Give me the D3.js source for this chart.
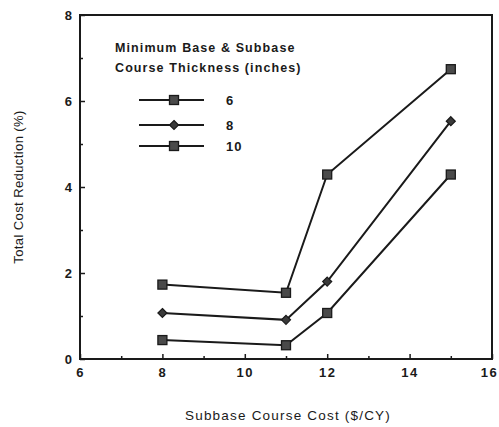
<!DOCTYPE html>
<html><head><meta charset="utf-8">
<script src="https://cdn.jsdelivr.net/npm/d3@7"></script>
<style>
html,body{margin:0;padding:0;background:#fff;}
svg{display:block;}
text{font-family:"Liberation Sans",Arial,Helvetica,sans-serif;fill:#1a1a1a;}
</style></head>
<body>
<svg id="c" width="499" height="427"></svg>
<script>
const costs = [8, 11, 12, 15];
const series6 = [1.73, 1.54, 4.29, 6.74];
const series8 = [1.07, 0.91, 1.8, 5.53];
const series10 = [0.44, 0.32, 1.07, 4.29];
const seriesNames = ["6", "8", "10"];
const seriesMarkers = ["square", "diamond", "square"];
const xTicks = [6, 8, 10, 12, 14, 16];
const yTicks = [0, 2, 4, 6, 8];
const xMinor = [7, 9, 11, 13, 15];
const yMinor = [1, 3, 5, 7];
const xTitle = "Subbase Course Cost ($/CY)";
const yTitle = "Total Cost Reduction (%)";
const legendTitle = ["Minimum Base & Subbase", "Course Thickness (inches)"];

const svg = d3.select("#c");
const L = 80, R = 492, T = 15, B = 359;
const x = d3.scaleLinear().domain([6, 16]).range([L, R]);
const y = d3.scaleLinear().domain([0, 8]).range([B, T]);
const ink = "#1a1a1a";

// frame
svg.append("rect").attr("x", L).attr("y", T).attr("width", R - L).attr("height", B - T)
  .attr("fill", "none").attr("stroke", ink).attr("stroke-width", 2);

// x axis ticks (inward)
const xa = svg.append("g").attr("transform", `translate(0,${B})`)
  .call(d3.axisBottom(x).tickValues(xTicks).tickSize(-5).tickPadding(9).tickFormat(d3.format("d")));
xa.select(".domain").remove();
xa.selectAll(".tick line").attr("stroke", ink).attr("stroke-width", 1.5);
xa.selectAll(".tick text").attr("font-size", 13).attr("font-weight", "bold").attr("letter-spacing", "1.5px")
  .attr("fill", ink).attr("font-family", "Liberation Sans, Arial, sans-serif")
  .attr("dx", d => d === 16 ? -3 : 0);
svg.append("g").attr("transform", `translate(0,${B})`)
  .call(d3.axisBottom(x).tickValues(xMinor).tickSize(-3).tickFormat(""))
  .call(g => g.select(".domain").remove())
  .selectAll(".tick line").attr("stroke", ink).attr("stroke-width", 1.5);

// y axis ticks (inward)
const ya = svg.append("g").attr("transform", `translate(${L},0)`)
  .call(d3.axisLeft(y).tickValues(yTicks).tickSize(-5).tickPadding(8).tickFormat(d3.format("d")));
ya.select(".domain").remove();
ya.selectAll(".tick line").attr("stroke", ink).attr("stroke-width", 1.5);
ya.selectAll(".tick text").attr("font-size", 13).attr("font-weight", "bold").attr("fill", ink).attr("font-family", "Liberation Sans, Arial, sans-serif");
svg.append("g").attr("transform", `translate(${L},0)`)
  .call(d3.axisLeft(y).tickValues(yMinor).tickSize(-3).tickFormat(""))
  .call(g => g.select(".domain").remove())
  .selectAll(".tick line").attr("stroke", ink).attr("stroke-width", 1.5);

// titles
svg.append("text").attr("x", 288).attr("y", 420).attr("text-anchor", "middle")
  .attr("font-size", 13.5).attr("letter-spacing", "1.2px").text(xTitle);
svg.append("text").attr("transform", "translate(23,187) rotate(-90)").attr("text-anchor", "middle")
  .attr("font-size", 13).attr("letter-spacing", "0.4px").text(yTitle);

// lines
const allSeries = [series6, series8, series10];
const line = d3.line().x((d, i) => x(costs[i])).y(d => y(d));
function marker(g, type, cx, cy) {
  if (type === "square") {
    g.append("rect").attr("x", cx - 4.5).attr("y", cy - 4.5).attr("width", 9).attr("height", 9)
      .attr("fill", "#4a4a4a").attr("stroke", ink).attr("stroke-width", 1.3);
  } else {
    const s = 4.5;
    g.append("path").attr("d", `M${cx},${cy - s}L${cx + s},${cy}L${cx},${cy + s}L${cx - s},${cy}Z`)
      .attr("fill", "#3a3a3a").attr("stroke", ink).attr("stroke-width", 1.2);
  }
}
allSeries.forEach((vals, si) => {
  const g = svg.append("g");
  g.append("path").datum(vals).attr("d", line).attr("fill", "none").attr("stroke", ink).attr("stroke-width", 2);
  vals.forEach((v, i) => marker(g, seriesMarkers[si], x(costs[i]), y(v)));
});

// legend
legendTitle.forEach((t, i) => {
  svg.append("text").attr("x", 115).attr("y", 52 + i * 20).attr("font-size", 12.5)
    .attr("font-weight", "bold").attr("letter-spacing", "1.1px").attr("fill", "#222").text(t);
});
const legY = [100, 125, 146];
seriesNames.forEach((n, i) => {
  const g = svg.append("g");
  g.append("line").attr("x1", 139).attr("x2", 204).attr("y1", legY[i]).attr("y2", legY[i])
    .attr("stroke", ink).attr("stroke-width", 2);
  marker(g, seriesMarkers[i], 174, legY[i]);
  svg.append("text").attr("x", 226).attr("y", legY[i] + 5).attr("font-size", 13)
    .attr("font-weight", "bold").attr("letter-spacing", "1px").text(n);
});
</script>
</body></html>
